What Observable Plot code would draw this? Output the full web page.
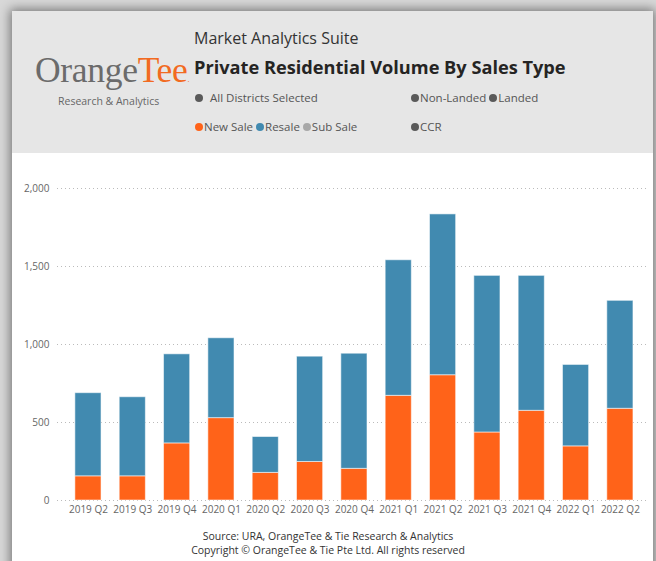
<!DOCTYPE html>
<html>
<head>
<meta charset="utf-8">
<script src="https://cdn.jsdelivr.net/npm/d3@7"></script>
<script src="https://cdn.jsdelivr.net/npm/@observablehq/plot@0.6"></script>
<style>
  html, body { margin: 0; padding: 0; }
  body { width: 656px; height: 561px; overflow: hidden; position: relative; background: #d8d8d8; font-family: "Open Sans", "Noto Sans", sans-serif; }
  #card { position: absolute; left: 12px; top: 11px; width: 641px; height: 560px; background: #fff; box-shadow: 0 0 10px 2px rgba(0,0,0,0.45); }
  #header { position: absolute; left: 0; top: 0; width: 641px; height: 142px; background: #e6e6e6; }
  .abs { position: absolute; white-space: nowrap; }
  #suite { left: 182px; top: 16px; font-size: 16px; color: #333; font-weight: 400; }
  #title { left: 182px; top: 44px; font-size: 18.2px; color: #252423; font-weight: 700; }
  #logo { left: 23px; top: 38px; font-family: "Liberation Serif", "DejaVu Serif", serif; font-size: 35.5px; color: #6b6b6b; letter-spacing: -0.3px; }
  #logo .tee { color: #f26a21; }
  #logo .reg { font-size: 8px; color: #f26a21; }
  #ra { left: 46px; top: 83px; font-size: 10.5px; color: #666; }
  .leg { font-size: 11.5px; color: #555; }
  .dot { display: inline-block; width: 8px; height: 8px; border-radius: 50%; margin-right: 1px; position: relative; top: 0px; }
  #footer1, #footer2 { width: 656px; left: 0; text-align: center; font-size: 10.5px; color: #333; }
  #footer1 { top: 529px; }
  #footer2 { top: 543px; }
  #chart { position: absolute; left: 0; top: 160px; }
</style>
</head>
<body>
<div id="card">
  <div id="header">
    <div class="abs" id="logo">Orange<span class="tee">Tee</span><span class="reg">.</span></div>
    <div class="abs" id="ra">Research &amp; Analytics</div>
    <div class="abs" id="suite">Market Analytics Suite</div>
    <div class="abs" id="title">Private Residential Volume By Sales Type</div>
    <div class="abs leg" style="left:183px; top:79px;"><span class="dot" style="background:#5a5a5a"></span>&nbsp; All Districts Selected</div>
    <div class="abs leg" style="left:399px; top:79px;"><span class="dot" style="background:#5a5a5a"></span>Non-Landed <span class="dot" style="background:#5a5a5a"></span>Landed</div>
    <div class="abs leg" style="left:183px; top:108px;"><span class="dot" style="background:#ff6319"></span>New Sale <span class="dot" style="background:#418ab0"></span>Resale <span class="dot" style="background:#a8a8a8"></span>Sub Sale</div>
    <div class="abs leg" style="left:399px; top:108px;"><span class="dot" style="background:#5a5a5a"></span>CCR</div>
  </div>
</div>
<div id="chart"></div>
<div class="abs" id="footer1">Source: URA, OrangeTee &amp; Tie Research &amp; Analytics</div>
<div class="abs" id="footer2">Copyright © OrangeTee &amp; Tie Pte Ltd. All rights reserved</div>
<script>
const quarters = ["2019 Q2","2019 Q3","2019 Q4","2020 Q1","2020 Q2","2020 Q3","2020 Q4","2021 Q1","2021 Q2","2021 Q3","2021 Q4","2022 Q1","2022 Q2"];
const newSale = [155,155,366,528,177,247,203,671,803,436,575,347,588];
const resale  = [533,507,571,512,230,675,738,869,1031,1004,865,522,692];
const types = ["New Sale","Resale"];
const typeColors = ["#ff6319","#418ab0"];
const yTicks = [0,500,1000,1500,2000];

const rows = [];
quarters.forEach((q,i) => rows.push({quarter:q, type:"New Sale", value:newSale[i]}));
quarters.forEach((q,i) => rows.push({quarter:q, type:"Resale", value:resale[i]}));

const chart = Plot.plot({
  width: 656,
  height: 360,
  marginLeft: 57,
  marginRight: 9,
  marginTop: 28,
  marginBottom: 20,
  style: {fontFamily: "'Open Sans', sans-serif", fontSize: "10px", color: "#666", background: "transparent"},
  x: {domain: quarters, label: null, round: false, paddingInner: 0.41, paddingOuter: 0.36, align: 0.56, tickSize: 0, tickPadding: 5},
  y: {domain: [0,2000], ticks: yTicks, label: null, tickSize: 0, tickPadding: 8, tickFormat: d3.format(",")},
  color: {domain: types, range: typeColors},
  marks: [
    Plot.gridY(yTicks, {stroke: "#bbb", strokeOpacity: 1, strokeDasharray: "1,3"}),
    Plot.barY(rows, {x: "quarter", y: "value", fill: "type", stroke: "#fff", strokeOpacity: 0.55, strokeWidth: 1})
  ]
});
document.getElementById("chart").appendChild(chart);
</script>
</body>
</html>
